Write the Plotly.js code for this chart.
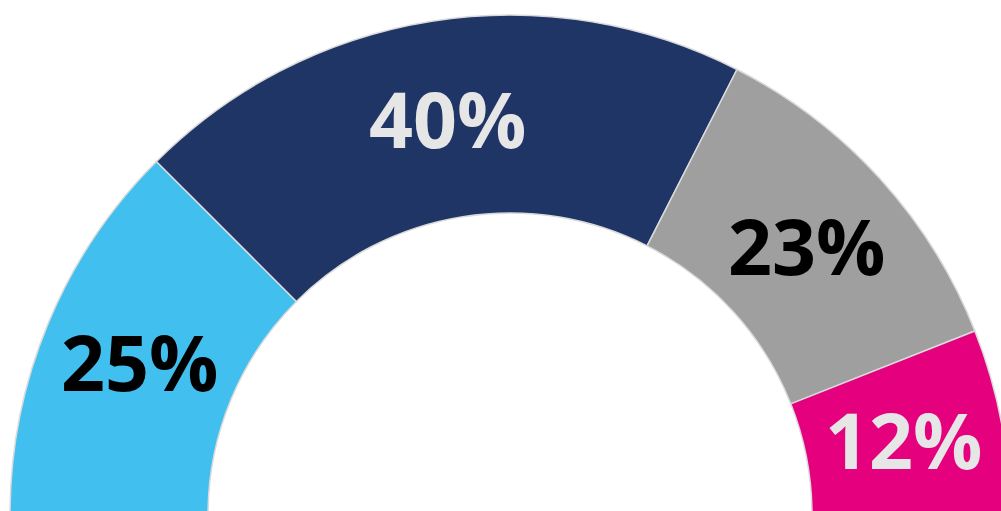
<!DOCTYPE html>
<html>
<head>
<meta charset="utf-8">
<script src="https://cdn.plot.ly/plotly-3.0.1.min.js"></script>
<style>
html,body{margin:0;padding:0;overflow:hidden;background:#fff;}
#chart{width:1020px;height:1030px;}
</style>
</head>
<body>
<div id="chart"></div>
<script>
const categories = ["A", "B", "C", "D"];
const shares = [25, 40, 23, 12];
const sliceColors = ["#41BFEF", "#1F3566", "#9F9F9F", "#E5007D"];
const textColors = ["#000000", "#E6E6E6", "#000000", "#E6E6E6"];

const total = shares.reduce((a, b) => a + b, 0);
const values = shares.concat([total]);
const labels = categories.concat(["hidden"]);
const colors = sliceColors.concat(["rgba(0,0,0,0)"]);
const lineW = shares.map(() => 1.5).concat([0]);

const W = 1020, H = 1030;
const R = 500;           // outer radius in px (domain 1000px tall)
const HOLE = 0.604;
const trace = {
  type: "pie",
  labels: labels,
  values: values,
  textinfo: "none",
  sort: false,
  direction: "clockwise",
  rotation: 270,
  hole: HOLE,
  hoverinfo: "skip",
  showlegend: false,
  marker: {colors: colors, line: {color: "#DADADA", width: lineW}},
  domain: {x: [0, 1], y: [15 / H, 1015 / H]}
};

// Labels at the middle of the ring, at each slice's middle angle
const rMid = R * (1 + HOLE) / 2;
let cum = 0;
const annotations = shares.map((v, i) => {
  const midFrac = (cum + v / 2) / (2 * total); // fraction of full circle
  cum += v;
  const ang = Math.PI - midFrac * 2 * Math.PI;   // from +x axis, counterclockwise
  return {
    xref: "paper", yref: "paper",
    x: 0.5 + rMid * Math.cos(ang) / W,
    y: 0.5 + rMid * Math.sin(ang) / H,
    xanchor: "center", yanchor: "middle",
    text: v + "%",
    showarrow: false,
    font: {family: "Open Sans, sans-serif", size: 77, weight: 700, color: textColors[i]}
  };
});

Plotly.newPlot("chart", [trace], {
  width: W, height: H,
  margin: {l: 0, r: 0, t: 0, b: 0},
  paper_bgcolor: "#ffffff",
  showlegend: false,
  annotations: annotations
}, {staticPlot: true, displayModeBar: false});
</script>
</body>
</html>
